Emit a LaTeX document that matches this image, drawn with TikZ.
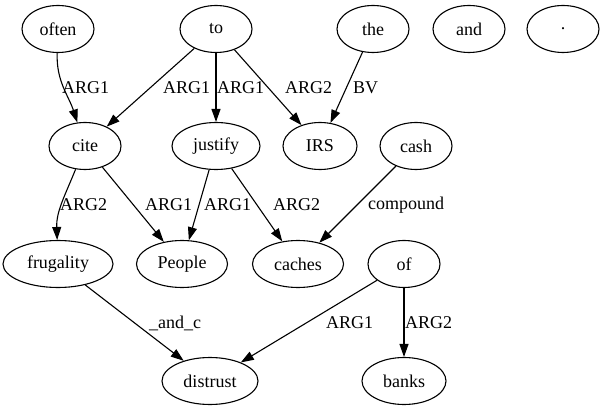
\documentclass[tikz,border=0pt]{standalone}
\usepackage{fontspec}
\setmainfont{Liberation Serif}
\usetikzlibrary{shapes.geometric,arrows.meta}
\begin{document}
\begin{tikzpicture}[x=1pt,y=-1pt,
  ell/.style={ellipse,draw,line width=1.1pt,minimum width=72pt,minimum height=47pt,inner sep=0pt,font=\fontsize{18}{21}\selectfont},
  lbl/.style={anchor=west,inner sep=0pt,font=\fontsize{18}{21}\selectfont},
  arr/.style={line width=1.1pt,-{Triangle[length=13pt,width=9pt]}}]
\useasboundingbox (0,0) rectangle (607,411);
% row 1
\node[ell] (often) at (58,29) {often};
\node[ell] (to) at (216,29) {to};
\node[ell] (the) at (373,29) {the};
\node[ell] (and) at (469,29) {and};
\node[ell] (dot) at (563,29) {.};
% row 2
\node[ell] (cite) at (85,146) {cite};
\node[ell,minimum width=88pt] (justify) at (216,146) {justify};
\node[ell,minimum width=74pt] (IRS) at (320,146) {IRS};
\node[ell] (cash) at (416,146) {cash};
% row 3
\node[ell,minimum width=110pt] (frugality) at (58,264) {frugality};
\node[ell,minimum width=91pt] (People) at (182,264) {People};
\node[ell,minimum width=91pt] (caches) at (298,264) {caches};
\node[ell] (of) at (404,264) {of};
% row 4
\node[ell,minimum width=96pt] (distrust) at (210,381) {distrust};
\node[ell,minimum width=84pt] (banks) at (404,381) {banks};
% edges
\draw[arr] (often) to[out=-92,in=108] (cite);
\draw[arr] (to) -- (cite);
\draw[arr] (to) -- (justify);
\draw[arr] (to) -- (IRS);
\draw[arr] (the) -- (IRS);
\draw[arr] (cite) to[out=-112,in=92] (frugality);
\draw[arr] (cite) -- (People);
\draw[arr] (justify) -- (People);
\draw[arr] (justify) -- (caches);
\draw[arr] (cash) -- (caches);
\draw[arr] (frugality) -- (distrust);
\draw[arr] (of) -- (distrust);
\draw[arr] (of) -- (banks);
% labels
\node[lbl] (l1) at (62,88) {ARG1};
\node[lbl] (l2) at (163,88) {ARG1};
\node[lbl] (l3) at (217,88) {ARG1};
\node[lbl] (l4) at (285,88) {ARG2};
\node[lbl] (l5) at (353,88) {BV};
\node[lbl] (l6) at (60,205) {ARG2};
\node[lbl] (l7) at (145,205) {ARG1};
\node[lbl] (l8) at (204,205) {ARG1};
\node[lbl] (l9) at (273,205) {ARG2};
\node[lbl] (l10) at (368,205) {compound};
\node[lbl] (l11) at (149,323) {\_and\_c};
\node[lbl] (l12) at (326,323) {ARG1};
\node[lbl] (l13) at (405,323) {ARG2};
\end{tikzpicture}
\end{document}
